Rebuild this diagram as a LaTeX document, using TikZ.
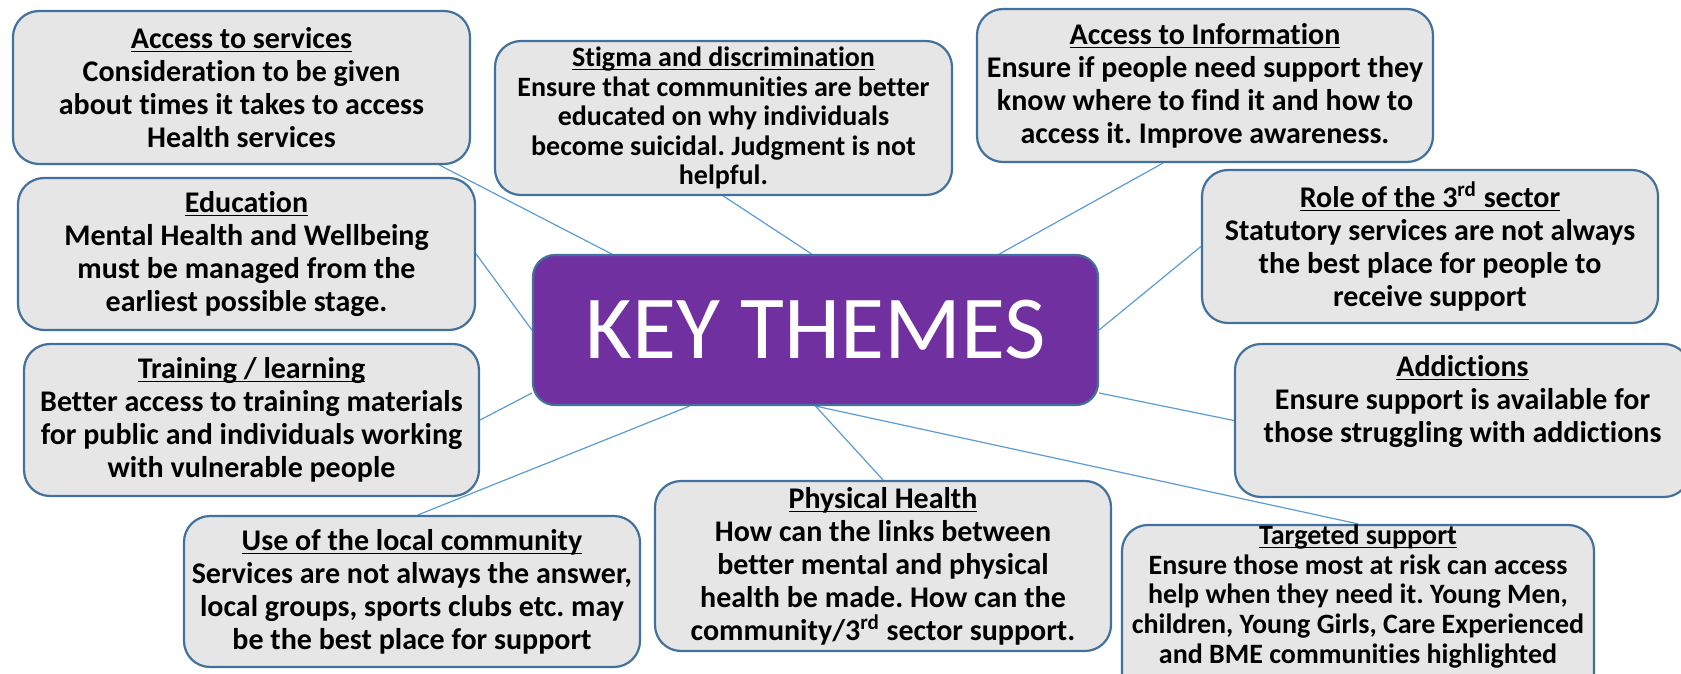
\documentclass[tikz,border=0pt]{standalone}
\usepackage{fontspec}
\setmainfont{Carlito}[Ligatures={NoCommon}]
\usepackage{xcolor}
\usetikzlibrary{backgrounds}

\definecolor{boxfill}{HTML}{E6E6E6}
\definecolor{boxline}{HTML}{41719C}
\definecolor{keypurple}{HTML}{7030A0}
\definecolor{linkblue}{HTML}{5B9BD5}

% underlined heading with a fixed rule position
\newsavebox\ttlbox
\newcommand{\ttl}[1]{\sbox\ttlbox{#1}\rlap{\rule[-1.9pt]{\wd\ttlbox}{0.65pt}}\usebox\ttlbox}

\frenchspacing

\begin{document}
\begin{tikzpicture}[
    x=0.5pt, y=-0.5pt, % one unit = one pixel of the layout
    % style for the grey theme boxes
    themebox/.style={
      rectangle,
      rounded corners=13pt,
      draw=boxline,
      line width=1.1pt,
      fill=boxfill,
      align=center,
      inner sep=0pt,
      font=\fontsize{15}{16.5}\selectfont\bfseries,
      minimum width=228pt,
      minimum height=76.5pt
    },
    % slightly smaller text for the fuller boxes
    smalltext/.style={
      font=\fontsize{14}{14.8}\selectfont\bfseries
    },
    % style for the purple box in the middle
    keybox/.style={
      rectangle,
      rounded corners=11pt,
      draw=boxline,
      line width=1.1pt,
      fill=keypurple,
      text=white,
      font=\fontsize{45}{54}\selectfont,
      minimum width=282.5pt,
      minimum height=75pt
    },
    % style for the thin connectors
    link/.style={
      draw=linkblue,
      line width=0.6pt
    }
  ]

  \useasboundingbox (0,0) rectangle (1681,674);

  % --- NODES ---

  % centre
  \node[keybox] (central) at (815.5,330) {KEY THEMES};

  % left column
  \node[themebox, minimum width=228.5pt] (services) at (241.5,87.5) {
    \ttl{Access to services}\\ Consideration to be given\\
    about times it takes to access\\ Health services
  };
  \node[themebox, minimum width=228.5pt, minimum height=76pt] (education) at (246.5,254) {
    \ttl{Education}\\ Mental Health and Wellbeing\\
    must be managed from the\\ earliest possible stage.
  };
  \node[themebox, minimum width=227.5pt, minimum height=76pt] (training) at (251.5,420) {
    \ttl{Training / learning}\\ Better access to training materials\\
    for public and individuals working\\ with vulnerable people
  };

  % bottom row
  \node[themebox, minimum height=75.5pt] (community) at (412,591.5) {
    \ttl{Use of the local community}\\ Services are not always the answer,\\
    local groups, sports clubs etc. may\\ be the best place for support
  };
  \node[themebox, minimum height=85pt] (physical) at (883,566) {
    \ttl{Physical Health}\\ How can the links between\\
    better mental and physical\\ health be made. How can the\\
    community/3\textsuperscript{rd} sector support.
  };
  \node[themebox, smalltext, minimum width=236pt, minimum height=85pt] (targeted) at (1358,612) {
    \ttl{Targeted support}\\ Ensure those most at risk can access\\
    help when they need it. Young Men,\\ children, Young Girls, Care Experienced\\
    and BME communities highlighted\rule[-18pt]{0pt}{0pt}
  };

  % right column
  \node[themebox, minimum width=227.5pt] (addictions) at (1462.5,420.5) {
    \ttl{Addictions}\\ Ensure support is available for\\
    those struggling with addictions\\ \strut
  };
  \node[themebox] (role) at (1430,246.5) {
    \ttl{Role of the 3\textsuperscript{rd} sector}\\ Statutory services are not always\\
    the best place for people to\\ receive support
  };

  % top row
  \node[themebox] (info) at (1205,85.5) {
    \ttl{Access to Information}\\ Ensure if people need support they\\
    know where to find it and how to\\ access it. Improve awareness.
  };
  \node[themebox, smalltext, minimum width=228.5pt, minimum height=77pt] (stigma) at (723.5,118) {
    \ttl{Stigma and discrimination}\\ Ensure that communities are better\\
    educated on why individuals\\ become suicidal. Judgment is not\\ helpful.
  };

  % --- CONNECTORS ---
  \begin{scope}[on background layer]
    \draw[link] ([xshift=99pt]services.south) -- ([xshift=-102pt]central.north);
    \draw[link] (stigma.south) -- ([xshift=-2pt]central.north);
    \draw[link] ([xshift=-21pt]info.south) -- ([xshift=92pt]central.north);
    \draw[link] (education.east) -- (central.west);
    \draw[link] (role.west) -- (central.east);
    \draw[link] (training.east) -- ([yshift=-31.5pt]central.west);
    \draw[link] (addictions.west) -- ([yshift=-31.5pt]central.east);
    \draw[link] ([xshift=3pt]community.north) -- ([xshift=-63pt]central.south);
    \draw[link] (physical.north) -- (central.south);
    \draw[link] (targeted.north) -- (central.south);
  \end{scope}

\end{tikzpicture}
\end{document}
